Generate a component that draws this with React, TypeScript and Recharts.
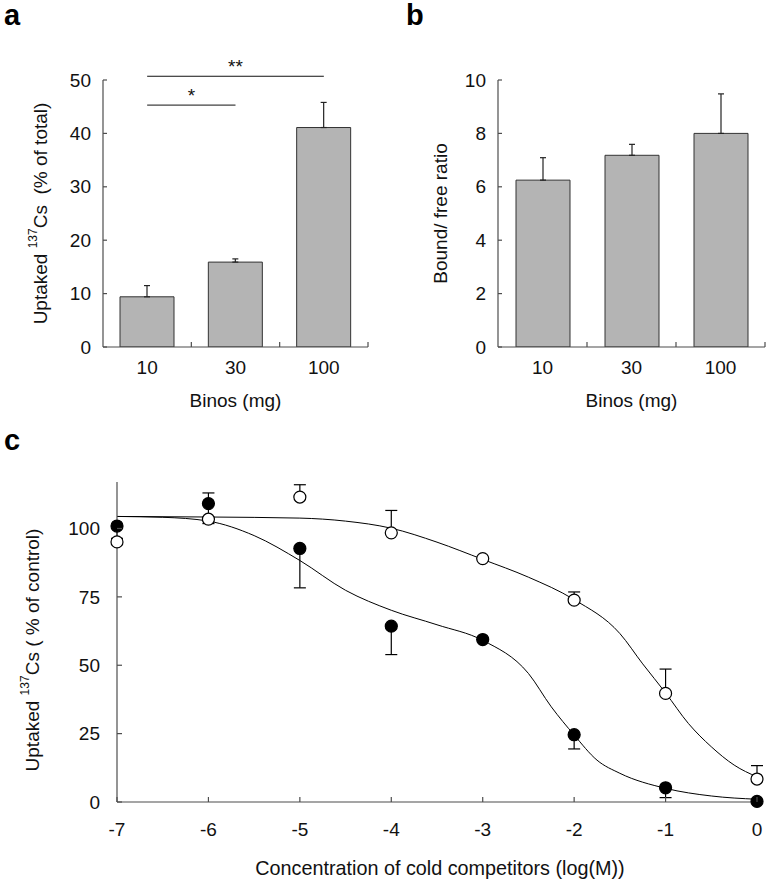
import {
  BarChart,
  Bar,
  ComposedChart,
  Line,
  Scatter,
  XAxis,
  YAxis,
  ErrorBar,
  ReferenceLine,
} from 'recharts'

const FONT = '"Liberation Sans", Arial, Helvetica, sans-serif'
const INK = '#111111'
const AXIS_COLOR = '#4d4d4d'
const BAR_FILL = '#b4b4b4'
const BAR_EDGE = '#333333'
const FS = 19

// a: 137Cs uptake by Binos amount
const doses = ['10', '30', '100']
const uptakeMean = [9.4, 15.9, 41.1]
const uptakeSd = [2.1, 0.6, 4.7]
const uptakeTicks = [0, 10, 20, 30, 40, 50]

// b: bound / free ratio
const ratioMean = [6.25, 7.18, 8.0]
const ratioSd = [0.84, 0.41, 1.48]
const ratioTicks = [0, 2, 4, 6, 8, 10]

// c: competition with cold competitors, log(M)
const logConc = [-7, -6, -5, -4, -3, -2, -1, 0]
const closedMean = [100.9, 109.1, 92.7, 64.3, 59.4, 24.6, 5.2, 0.2]
const closedErrDown = [4.5, 7.3, 14.4, 10.4, 0, 5.2, 3.6, 0]
const closedErrUp = [0, 3.9, 0, 0, 0, 0, 0, 0]
const openMean = [95.1, 103.4, 111.5, 98.4, 89.0, 73.8, 39.7, 8.4]
const openErrUp = [0, 0, 4.5, 8.2, 0, 3.0, 8.9, 4.9]
const pctTicks = [0, 25, 50, 75, 100]

// fitted curves
const closedFitX = [-7, -6.5, -6, -5.5, -5, -4.5, -4, -3.5, -3, -2.5, -2.25, -2, -1.75, -1.5, -1, -0.5, 0]
const closedFitY = [104.4, 104.1, 102.7, 97.4, 88.3, 77.4, 70.1, 64.8, 59.1, 47.0, 34.8, 24.5, 15.3, 10.5, 5.0, 2.2, 1.0]
const openFitX = [-7, -6, -5, -4.5, -4, -3.5, -3, -2.5, -2, -1.5, -1.25, -1, -0.75, -0.5, -0.25, 0]
const openFitY = [104.4, 104.2, 103.8, 102.7, 100.1, 95.0, 88.7, 82.2, 74.0, 61.6, 50.5, 39.9, 28.7, 20.2, 13.5, 9.2]

const barsA = doses.map((dose, i) => ({ dose, value: uptakeMean[i], err: [0, uptakeSd[i]] }))
const barsB = doses.map((dose, i) => ({ dose, value: ratioMean[i], err: [0, ratioSd[i]] }))
const closedPts = logConc.map((x, i) => ({ x, y: closedMean[i], err: [closedErrDown[i], closedErrUp[i]] }))
const openPts = logConc.map((x, i) => ({ x, y: openMean[i], err: [0, openErrUp[i]] }))
const closedFit = closedFitX.map((x, i) => ({ x, y: closedFitY[i] }))
const openFit = openFitX.map((x, i) => ({ x, y: openFitY[i] }))

function YTick(props: any) {
  const { x, y, payload, gap, len } = props
  return (
    <g>
      <line x1={x} y1={y} x2={x + len} y2={y} stroke={AXIS_COLOR} strokeWidth={1.2} />
      <text x={x - gap} y={y} dy="0.35em" textAnchor="end" fontSize={FS} fill={INK}>
        {payload.value}
      </text>
    </g>
  )
}

// category ticks: label in the band centre, tick mark at the band edge
function BandTick(props: any) {
  const { x, y, payload, half } = props
  return (
    <g>
      <line x1={x + half} y1={y} x2={x + half} y2={y - 5} stroke={AXIS_COLOR} strokeWidth={1.2} />
      <text x={x} y={y + 27} textAnchor="middle" fontSize={FS} fill={INK}>
        {payload.value}
      </text>
    </g>
  )
}

function NumTick(props: any) {
  const { x, y, payload } = props
  return (
    <g>
      <line x1={x} y1={y} x2={x} y2={y - 5} stroke={AXIS_COLOR} strokeWidth={1.2} />
      <text x={x} y={y + 34} textAnchor="middle" fontSize={FS} fill={INK}>
        {payload.value}
      </text>
    </g>
  )
}

function HTitle({ cx, base, text, size = FS }: { cx: number; base: number; text: string; size?: number }) {
  return (
    <text x={cx} y={base} textAnchor="middle" fontSize={size} fill={INK}>
      {text}
    </text>
  )
}

function VTitle({ cx, cy, text }: { cx: number; cy: number; text: string }) {
  return (
    <text
      x={cx}
      y={cy}
      transform={`rotate(-90 ${cx} ${cy})`}
      textAnchor="middle"
      dominantBaseline="central"
      fontSize={FS}
      fill={INK}
    >
      {text}
    </text>
  )
}

function CsTitle({ cx, cy, tail }: { cx: number; cy: number; tail: string }) {
  return (
    <text
      x={cx}
      y={cy}
      transform={`rotate(-90 ${cx} ${cy})`}
      textAnchor="middle"
      dominantBaseline="central"
      fontSize={FS}
      fill={INK}
    >
      {'Uptaked '}
      <tspan fontSize={12} dy={-7}>
        137
      </tspan>
      <tspan dy={7}>{'Cs' + tail}</tspan>
    </text>
  )
}

const dot = (filled: boolean) => (props: any) => (
  <circle
    cx={props.cx}
    cy={props.cy}
    r={6}
    fill={filled ? '#000' : '#fff'}
    stroke="#000"
    strokeWidth={1.2}
  />
)

const panelLetter = (left: number, top: number): React.CSSProperties => ({
  position: 'absolute',
  left,
  top,
  fontSize: 29,
  lineHeight: '24px',
  fontWeight: 700,
  color: '#000',
})

export default function App() {
  return (
    <div
      style={{
        position: 'absolute',
        left: 0,
        top: 0,
        width: 770,
        height: 884,
        background: '#fff',
        fontFamily: FONT,
      }}
    >
      <div style={panelLetter(4, 3)}>a</div>
      <div style={panelLetter(406, 3)}>b</div>
      <div style={panelLetter(4, 428)}>c</div>

      <div style={{ position: 'absolute', left: 0, top: 0 }}>
        <BarChart
          width={380}
          height={420}
          data={barsA}
          margin={{ top: 80, right: 12, bottom: 43, left: 43 }}
          barSize={54}
        >
          <XAxis
            dataKey="dose"
            height={30}
            interval={0}
            tickSize={0}
            tickMargin={0}
            tickLine={false}
            axisLine={{ stroke: AXIS_COLOR, strokeWidth: 1.2 }}
            tick={(p: any) => <BandTick {...p} half={44.17} />}
            label={<HTitle cx={235.5} base={407} text="Binos (mg)" />}
          />
          <YAxis
            width={60}
            domain={[0, 50]}
            ticks={uptakeTicks}
            allowDataOverflow
            interval={0}
            tickSize={0}
            tickMargin={0}
            tickLine={false}
            axisLine={{ stroke: AXIS_COLOR, strokeWidth: 1.2 }}
            tick={(p: any) => <YTick {...p} gap={12} len={4} />}
            label={<CsTitle cx={40} cy={213.5} tail={'\u00a0\u00a0(% of total)'} />}
          />
          <Bar
            dataKey="value"
            fill={BAR_FILL}
            stroke={BAR_EDGE}
            strokeWidth={1}
            isAnimationActive={false}
          >
            <ErrorBar dataKey="err" width={3} stroke="#222" strokeWidth={1.2} isAnimationActive={false} />
          </Bar>
          <ReferenceLine
            segment={[
              { x: '10', y: 45.3 },
              { x: '30', y: 45.3 },
            ]}
            stroke="#111"
            strokeWidth={1}
            ifOverflow="visible"
            label={{ value: '*', position: 'top', offset: 3, fontSize: FS, fill: INK }}
          />
          <ReferenceLine
            segment={[
              { x: '10', y: 50.7 },
              { x: '100', y: 50.7 },
            ]}
            stroke="#111"
            strokeWidth={1}
            ifOverflow="visible"
            label={{ value: '**', position: 'top', offset: 3, fontSize: FS, fill: INK }}
          />
        </BarChart>
      </div>

      <div style={{ position: 'absolute', left: 380, top: 0 }}>
        <BarChart
          width={390}
          height={420}
          data={barsB}
          margin={{ top: 80, right: 5, bottom: 43, left: 58 }}
          barSize={54}
        >
          <XAxis
            dataKey="dose"
            height={30}
            interval={0}
            tickSize={0}
            tickMargin={0}
            tickLine={false}
            axisLine={{ stroke: AXIS_COLOR, strokeWidth: 1.2 }}
            tick={(p: any) => <BandTick {...p} half={44.5} />}
            label={<HTitle cx={251.5} base={407} text="Binos (mg)" />}
          />
          <YAxis
            width={60}
            domain={[0, 10]}
            ticks={ratioTicks}
            allowDataOverflow
            interval={0}
            tickSize={0}
            tickMargin={0}
            tickLine={false}
            axisLine={{ stroke: AXIS_COLOR, strokeWidth: 1.2 }}
            tick={(p: any) => <YTick {...p} gap={12} len={4} />}
            label={<VTitle cx={60} cy={213.5} text="Bound/ free ratio" />}
          />
          <Bar
            dataKey="value"
            fill={BAR_FILL}
            stroke={BAR_EDGE}
            strokeWidth={1}
            isAnimationActive={false}
          >
            <ErrorBar dataKey="err" width={3} stroke="#222" strokeWidth={1.2} isAnimationActive={false} />
          </Bar>
        </BarChart>
      </div>

      <div style={{ position: 'absolute', left: 0, top: 440 }}>
        <ComposedChart
          width={770}
          height={444}
          margin={{ top: 42, right: 13, bottom: 52, left: 57 }}
        >
          <XAxis
            type="number"
            dataKey="x"
            domain={[-7, 0]}
            ticks={logConc}
            interval={0}
            height={30}
            tickSize={0}
            tickMargin={0}
            tickLine={false}
            axisLine={{ stroke: AXIS_COLOR, strokeWidth: 1.2 }}
            tick={(p: any) => <NumTick {...p} />}
            label={
              <HTitle
                cx={440}
                base={435}
                size={19.8}
                text="Concentration of cold competitors (log(M))"
              />
            }
          />
          <YAxis
            type="number"
            dataKey="y"
            width={60}
            domain={[0, 117]}
            ticks={pctTicks}
            interval={0}
            tickSize={0}
            tickMargin={0}
            tickLine={false}
            axisLine={{ stroke: AXIS_COLOR, strokeWidth: 1.2 }}
            tick={(p: any) => <YTick {...p} gap={17} len={5} />}
            label={<CsTitle cx={32} cy={210} tail={' ( % of control)'} />}
          />
          <Line
            data={openFit}
            dataKey="y"
            type="monotone"
            stroke="#000"
            strokeWidth={1}
            dot={false}
            activeDot={false}
            isAnimationActive={false}
          />
          <Line
            data={closedFit}
            dataKey="y"
            type="monotone"
            stroke="#000"
            strokeWidth={1}
            dot={false}
            activeDot={false}
            isAnimationActive={false}
          />
          <Scatter data={openPts} shape={dot(false)} isAnimationActive={false}>
            <ErrorBar dataKey="err" direction="y" width={6} stroke="#000" strokeWidth={1.2} isAnimationActive={false} />
          </Scatter>
          <Scatter data={closedPts} shape={dot(true)} isAnimationActive={false}>
            <ErrorBar dataKey="err" direction="y" width={6} stroke="#000" strokeWidth={1.2} isAnimationActive={false} />
          </Scatter>
        </ComposedChart>
      </div>
    </div>
  )
}
